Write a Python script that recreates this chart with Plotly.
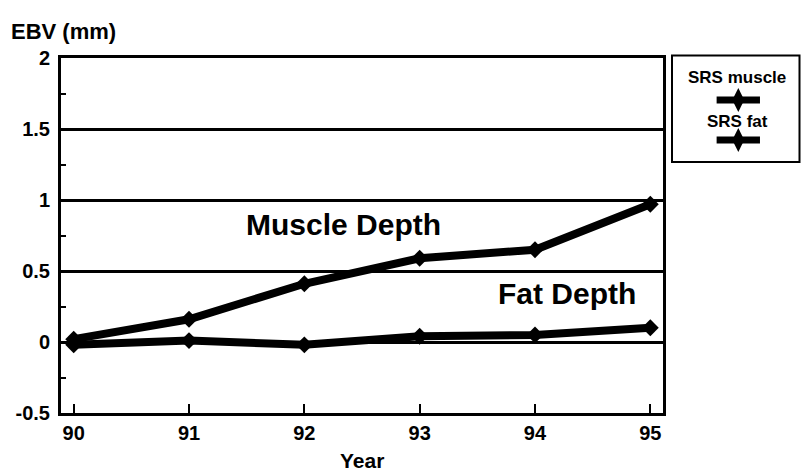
import plotly.graph_objects as go

years = [90, 91, 92, 93, 94, 95]
muscle = [0.02, 0.16, 0.41, 0.59, 0.65, 0.97]
fat = [-0.02, 0.01, -0.02, 0.04, 0.05, 0.10]
series_names = ["SRS muscle", "SRS fat"]
x_ticks = [90, 91, 92, 93, 94, 95]
y_ticks = [-0.5, 0, 0.5, 1, 1.5, 2]
y_tick_labels = ["-0.5", "0", "0.5", "1", "1.5", "2"]

FONT = "Liberation Sans"
L, R, T, B = 61, 1, 58, 59
W, H = 801, 472
plot_w = 602
dom_x1 = plot_w / (W - L - R)

fig = go.Figure()
line_style = dict(color="black", width=8)
marker_style = dict(symbol="diamond", size=13, color="black")

fig.add_trace(go.Scatter(x=years, y=muscle, mode="lines+markers", name=series_names[0],
                         line=line_style, marker=marker_style, showlegend=False))
fig.add_trace(go.Scatter(x=years, y=fat, mode="lines+markers", name=series_names[1],
                         line=line_style, marker=marker_style, showlegend=False))

def px_to_px(px):
    return (px - L) / (W - L - R)

def py(p):
    return (H - B - p) / (H - T - B)

leg_x0, leg_x1 = px_to_px(672), px_to_px(799.5)
leg_y0, leg_y1 = py(162), 1.0
# custom legend samples on an overlay axis
for yy in (py(100), py(140)):
    ya = (yy - leg_y0) / (leg_y1 - leg_y0)
    fig.add_trace(go.Scatter(x=[0.35, 0.52, 0.69], y=[ya, ya, ya], mode="lines",
                             line=dict(color="black", width=7), xaxis="x2", yaxis="y2",
                             showlegend=False, hoverinfo="skip"))
    fig.add_trace(go.Scatter(x=[0.52], y=[ya], mode="markers",
                             marker=dict(symbol="diamond-tall", size=17, color="black"),
                             xaxis="x2", yaxis="y2", showlegend=False, hoverinfo="skip"))

fig.update_layout(
    width=W, height=H,
    margin=dict(l=L, r=R, t=T, b=B, autoexpand=False),
    paper_bgcolor="white", plot_bgcolor="white",
    font=dict(family=FONT, color="black", weight="bold"),
    xaxis=dict(domain=[0, dom_x1], range=[89.89, 95.11], tickvals=x_ticks,
               ticktext=[str(v) for v in x_ticks], ticks="inside", ticklen=9, tickwidth=2,
               tickcolor="black", showline=True, linewidth=3, linecolor="black", mirror=True,
               showgrid=False, zeroline=False, tickfont=dict(size=20, family=FONT, weight="bold"),
               automargin=False),
    yaxis=dict(range=[-0.5, 2], tickvals=y_ticks, ticktext=y_tick_labels, ticks="inside",
               ticklen=6, tickwidth=2, tickcolor="black", showline=True, linewidth=3,
               linecolor="black", mirror=True, showgrid=True, gridcolor="black", gridwidth=2.5,
               zeroline=False, tickfont=dict(size=20, family=FONT, weight="bold"),
               ticklabelstandoff=4,
               minor=dict(ticks="inside", dtick=0.25, ticklen=5, tickwidth=1.5, tickcolor="black",
                          showgrid=False),
               automargin=False),
    xaxis2=dict(domain=[leg_x0, leg_x1], range=[0, 1], visible=False, fixedrange=True),
    yaxis2=dict(domain=[leg_y0, leg_y1], range=[0, 1], visible=False, fixedrange=True,
                anchor="x2"),
    shapes=[dict(type="rect", xref="paper", yref="paper", x0=leg_x0, x1=leg_x1,
                 y0=py(162), y1=py(55.5), line=dict(color="black", width=2))],
    annotations=[
        dict(text="EBV (mm)", xref="paper", yref="paper", x=px_to_px(9), y=py(31),
             xanchor="left", yanchor="middle", showarrow=False,
             font=dict(size=22, family=FONT, weight="bold")),
        dict(text="Year", xref="paper", yref="paper", x=px_to_px(362), y=py(460),
             xanchor="center", yanchor="middle", showarrow=False,
             font=dict(size=21, family=FONT, weight="bold")),
        dict(text="Muscle Depth", x=92.34, y=0.83, xanchor="center", yanchor="middle",
             showarrow=False, font=dict(size=30, family=FONT, weight="bold")),
        dict(text="Fat Depth", x=94.28, y=0.34, xanchor="center", yanchor="middle",
             showarrow=False, font=dict(size=30, family=FONT, weight="bold")),
        dict(text=series_names[0], xref="paper", yref="paper", x=px_to_px(737), y=py(77),
             xanchor="center", yanchor="middle", showarrow=False,
             font=dict(size=17, family=FONT, weight="bold")),
        dict(text=series_names[1], xref="paper", yref="paper", x=px_to_px(737), y=py(121),
             xanchor="center", yanchor="middle", showarrow=False,
             font=dict(size=17, family=FONT, weight="bold")),
    ],
)

fig.write_html("out.html", config={"displayModeBar": False},
               post_script="document.body.style.margin='0';document.body.style.padding='0';")
